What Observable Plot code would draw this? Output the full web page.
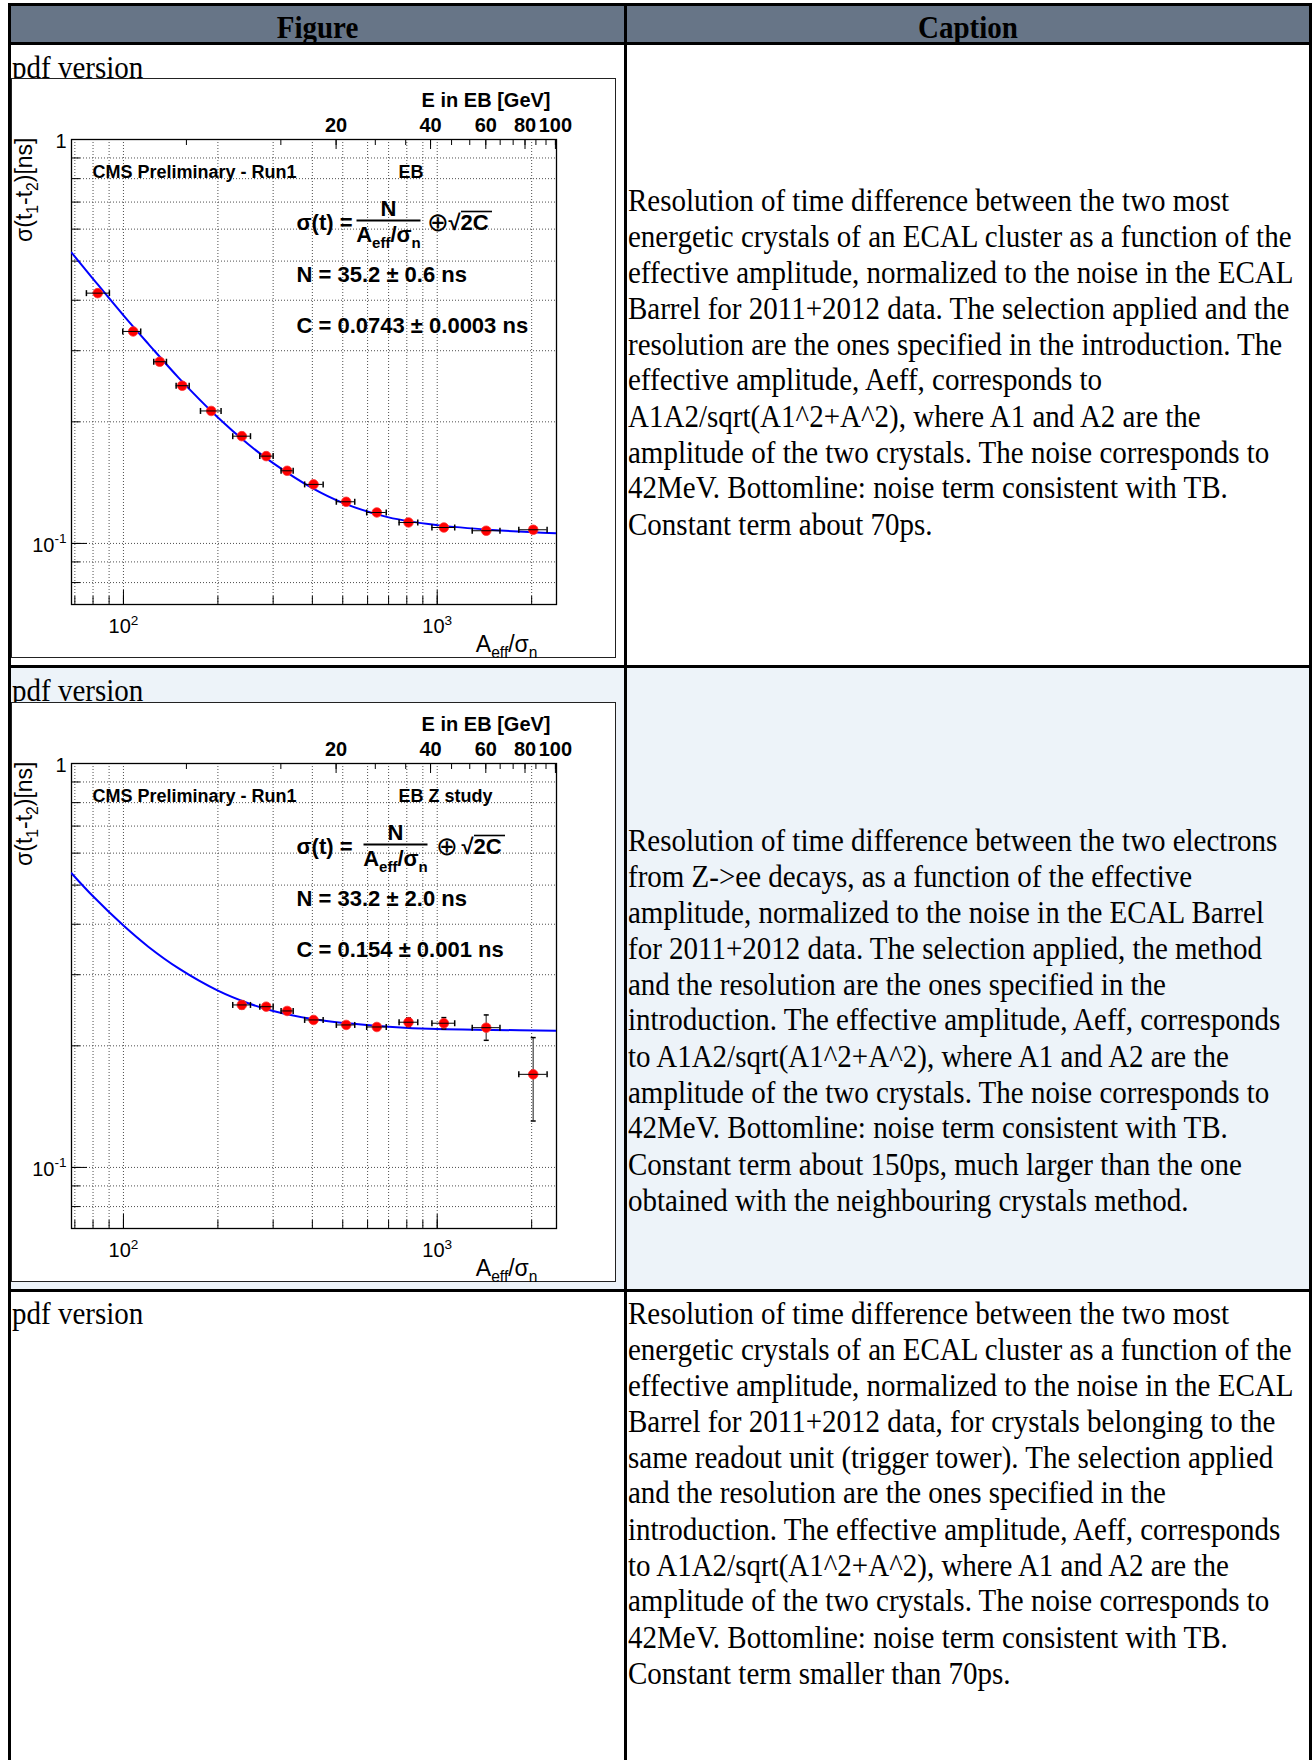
<!DOCTYPE html>
<html>
<head>
<meta charset="utf-8">
<script src="https://cdn.jsdelivr.net/npm/d3@7"></script>
<script src="https://cdn.jsdelivr.net/npm/@observablehq/plot@0.6"></script>
<style>
html, body { margin: 0; padding: 0; background: #fff; }
#page { position: relative; width: 1314px; height: 1760px; overflow: hidden;
  font-family: "Liberation Serif", "Times New Roman", Times, serif; color: #000; }
.ln { position: absolute; background: #000; }
.bg { position: absolute; }
.txt { position: absolute; font-size: 29px; line-height: 33.3px; white-space: nowrap;
  transform-origin: 0 0; transform: scaleY(1.08); }
.hd { font-weight: bold; transform-origin: 50% 0; transform: translateX(-50%) scaleY(1.08); }
.pdf { text-decoration: underline; }
.img { position: absolute; background: #fff; border: 1px solid #222; box-sizing: border-box; }
.img svg { display: block; }
</style>
</head>
<body>
<div id="page"></div>
<script>
// ---------------- data ----------------
const GEV_PER_UNIT = 0.042;               // 42 MeV noise: E[GeV] = (A_eff/sigma_n) * 0.042

// Panel 1: EB, two most energetic crystals
const ebAeff    = [82.8, 107.4, 130.5, 153.9, 190.4, 238.4, 285.1, 332.5, 403.5, 512.8, 642, 810, 1050, 1433, 2023];
const ebAeffLo  = [76.2, 99.5, 124.9, 147.2, 176, 223, 272, 318, 378, 477, 596, 756, 962, 1293, 1820];
const ebAeffHi  = [90.2, 113.5, 137.1, 162, 204.7, 254, 300, 347.5, 433, 546, 688, 867, 1137, 1585, 2240];
const ebSigma   = [0.4165, 0.3348, 0.2817, 0.2457, 0.2128, 0.1843, 0.1645, 0.1513, 0.1400, 0.1268, 0.1193, 0.1127, 0.1095, 0.1075, 0.1081];
const ebSigmaLo = [0.4120, 0.3315, 0.2792, 0.2437, 0.2112, 0.1830, 0.1634, 0.1503, 0.1391, 0.1260, 0.1186, 0.1121, 0.1089, 0.1069, 0.1074];
const ebSigmaHi = [0.4210, 0.3381, 0.2842, 0.2477, 0.2144, 0.1856, 0.1656, 0.1523, 0.1409, 0.1276, 0.1200, 0.1133, 0.1101, 0.1081, 0.1088];

// Panel 2: EB, Z study (electrons from Z->ee)
const zAeff    = [238.4, 285.1, 332.5, 403.5, 512.8, 642, 810, 1050, 1433, 2023];
const zAeffLo  = [223, 272, 318, 378, 477, 596, 756, 962, 1293, 1820];
const zAeffHi  = [254, 300, 347.5, 433, 546, 688, 867, 1137, 1585, 2240];
const zSigma   = [0.2525, 0.2500, 0.2440, 0.2318, 0.2253, 0.2227, 0.2288, 0.2275, 0.2218, 0.170];
const zSigmaLo = [0.2470, 0.2460, 0.2400, 0.2280, 0.2215, 0.2190, 0.2231, 0.2201, 0.2064, 0.1303];
const zSigmaHi = [0.2581, 0.2540, 0.2480, 0.2356, 0.2291, 0.2264, 0.2346, 0.2349, 0.2385, 0.2096];

// fitted curves
const fitAeff    = [68.3, 80, 100, 120, 150, 200, 250, 300, 400, 500, 700, 1000, 1500, 2400];
const ebFitSigma = [0.525, 0.452, 0.367, 0.312, 0.257, 0.205, 0.176, 0.158, 0.137, 0.126, 0.116, 0.111, 0.108, 0.106];
const zFitSigma  = [0.535, 0.469, 0.397, 0.352, 0.311, 0.274, 0.255, 0.244, 0.233, 0.228, 0.223, 0.220, 0.219, 0.218];

// axes
const xDomain = [68.3, 2400];
const yDomain = [0.0706, 1];
const xGridTicks  = [70, 80, 90, 100, 200, 300, 400, 500, 600, 700, 800, 900, 1000, 2000];
const xMajorTicks = [100, 1000];
const xTickLabels = ["10^{2}", "10^{3}"];
const yGridTicks  = [0.08, 0.09, 0.1, 0.2, 0.3, 0.4, 0.5, 0.6, 0.7, 0.8, 0.9];
const yMajorTicks = [0.1, 1];
const yTickLabels = ["10^{-1}", "1"];
const eMinorTicks = [6.667, 13.333, 20, 26.667, 33.333, 40, 46.667, 53.333, 60, 66.667, 73.333, 80, 86.667, 93.333, 100];
const eMajorTicks = [20, 40, 60, 80, 100];

// captions
const caption1 = [
  "Resolution of time difference between the two most",
  "energetic crystals of an ECAL cluster as a function of the",
  "effective amplitude, normalized to the noise in the ECAL",
  "Barrel for 2011+2012 data. The selection applied and the",
  "resolution are the ones specified in the introduction. The",
  "effective amplitude, Aeff, corresponds to",
  "A1A2/sqrt(A1^2+A^2), where A1 and A2 are the",
  "amplitude of the two crystals. The noise corresponds to",
  "42MeV. Bottomline: noise term consistent with TB.",
  "Constant term about 70ps."
];
const caption2 = [
  "Resolution of time difference between the two electrons",
  "from Z->ee decays, as a function of the effective",
  "amplitude, normalized to the noise in the ECAL Barrel",
  "for 2011+2012 data. The selection applied, the method",
  "and the resolution are the ones specified in the",
  "introduction. The effective amplitude, Aeff, corresponds",
  "to A1A2/sqrt(A1^2+A^2), where A1 and A2 are the",
  "amplitude of the two crystals. The noise corresponds to",
  "42MeV. Bottomline: noise term consistent with TB.",
  "Constant term about 150ps, much larger than the one",
  "obtained with the neighbouring crystals method."
];
const caption3 = [
  "Resolution of time difference between the two most",
  "energetic crystals of an ECAL cluster as a function of the",
  "effective amplitude, normalized to the noise in the ECAL",
  "Barrel for 2011+2012 data, for crystals belonging to the",
  "same readout unit (trigger tower). The selection applied",
  "and the resolution are the ones specified in the",
  "introduction. The effective amplitude, Aeff, corresponds",
  "to A1A2/sqrt(A1^2+A^2), where A1 and A2 are the",
  "amplitude of the two crystals. The noise corresponds to",
  "42MeV. Bottomline: noise term consistent with TB.",
  "Constant term smaller than 70ps."
];

// ---------------- helpers ----------------
const hbar = len => ({draw(ctx) { ctx.moveTo(-len / 2, 0); ctx.lineTo(len / 2, 0); }});
const vbar = len => ({draw(ctx) { ctx.moveTo(0, -len / 2); ctx.lineTo(0, len / 2); }});

function richify(svg) {
  const NS = "http://www.w3.org/2000/svg";
  svg.querySelectorAll("text").forEach(t => {
    const s = t.textContent;
    if (!/[_^]\{/.test(s)) return;
    let fs = 16, el = t;
    while (el && el.getAttribute) {
      const a = el.getAttribute("font-size");
      if (a) { fs = parseFloat(a); break; }
      el = el.parentNode;
    }
    t.textContent = "";
    let shift = 0, m;
    const re = /_\{([^}]*)\}|\^\{([^}]*)\}|([^_^]+)/g;
    while ((m = re.exec(s))) {
      const ts = document.createElementNS(NS, "tspan");
      let target = 0, txt = m[3];
      if (m[1] !== undefined) { target = 0.28 * fs; txt = m[1]; ts.setAttribute("font-size", (0.68 * fs).toFixed(1)); }
      else if (m[2] !== undefined) { target = -0.42 * fs; txt = m[2]; ts.setAttribute("font-size", (0.68 * fs).toFixed(1)); }
      ts.setAttribute("dy", (target - shift).toFixed(2));
      shift = target;
      ts.textContent = txt;
      t.appendChild(ts);
    }
  });
}

function panel(cfg) {
  const W = 603, H = 578, mL = 59, mR = 59, mT = 60, mB = 53;
  const FW = W - mL - mR, FH = H - mT - mB;
  const pts = cfg.aeff.map((a, i) => ({a, lo: cfg.aeffLo[i], hi: cfg.aeffHi[i],
    s: cfg.sigma[i], slo: cfg.sigmaLo[i], shi: cfg.sigmaHi[i]}));
  const fit = fitAeff.map((a, i) => ({a, s: cfg.fit[i]}));
  const grid = {stroke: "#3a3a3a", strokeWidth: 0.9, strokeDasharray: "1,2"};
  const B = {fontWeight: "bold", fill: "#000", lineAnchor: "middle"};
  const M = {lineAnchor: "middle", fill: "#000"};
  const svg = Plot.plot({
    width: W, height: H, marginLeft: mL, marginRight: mR, marginTop: mT, marginBottom: mB,
    x: {type: "log", domain: xDomain, axis: null},
    y: {type: "log", domain: yDomain, axis: null},
    style: {fontFamily: "'Liberation Sans', Arial, sans-serif", background: "#fff", color: "#000", overflow: "visible"},
    marks: [
      Plot.ruleX(xGridTicks, grid),
      Plot.ruleY(yGridTicks, grid),
      Plot.frame({stroke: "#000", strokeWidth: 1.3}),
      // bottom axis ticks (inward)
      Plot.tickX(xGridTicks, {insetTop: FH - 8, stroke: "#000"}),
      Plot.tickX(xMajorTicks, {insetTop: FH - 14, stroke: "#000"}),
      // left axis ticks
      Plot.tickY(yGridTicks, {insetRight: FW - 9, stroke: "#000"}),
      Plot.tickY(yMajorTicks, {insetRight: FW - 16, stroke: "#000"}),
      // top energy axis
      Plot.tickX(eMinorTicks, {x: e => e / GEV_PER_UNIT, insetBottom: FH - 6, stroke: "#000"}),
      Plot.tickX(eMajorTicks, {x: e => e / GEV_PER_UNIT, insetBottom: FH - 10, stroke: "#000"}),
      Plot.text(eMajorTicks, {x: e => e / GEV_PER_UNIT, text: e => String(e), frameAnchor: "top", dy: -14, fontSize: 20, ...B}),
      Plot.text(["E in EB [GeV]"], {frameAnchor: "top-right", textAnchor: "end", dx: -6, dy: -39, fontSize: 20, ...B}),
      // tick labels
      Plot.text(xMajorTicks, {x: d => d, text: (d, i) => xTickLabels[i], frameAnchor: "bottom", dy: 22, fontSize: 20, ...M}),
      Plot.text(yMajorTicks, {y: d => d, text: (d, i) => yTickLabels[i], frameAnchor: "left", textAnchor: "end", dx: -5, dy: 2, fontSize: 20, ...M}),
      // axis titles
      Plot.text(["A_{eff}/σ_{n}"], {frameAnchor: "bottom-right", textAnchor: "end", dx: -19, dy: 40, fontSize: 23, ...M}),
      Plot.text(["σ(t_{1}-t_{2})[ns]"], {frameAnchor: "top-left", rotate: -90, textAnchor: "end", dx: -47, dy: -2, fontSize: 23, ...M}),
      // annotations
      Plot.text(["CMS Preliminary - Run1"], {frameAnchor: "top-left", textAnchor: "start", dx: 21, dy: 33, fontSize: 18, ...B}),
      Plot.text([cfg.tag], {frameAnchor: "top-left", textAnchor: "start", dx: 327, dy: 33, fontSize: 18, ...B}),
      Plot.text(["σ(t) ="], {frameAnchor: "top-left", textAnchor: "start", dx: 225, dy: 83, fontSize: 22, ...B}),
      Plot.text(["N"], {frameAnchor: "top-left", textAnchor: "middle", dx: cfg.fracDx, dy: 69, fontSize: 22, ...B}),
      Plot.dot([0], {frameAnchor: "top-left", dx: cfg.fracDx, dy: 81, symbol: hbar(64), stroke: "#000", strokeWidth: 2, fill: "none"}),
      Plot.text(["A_{eff}/σ_{n}"], {frameAnchor: "top-left", textAnchor: "middle", dx: cfg.fracDx, dy: 95, fontSize: 22, ...B}),
      Plot.text(["⊕"], {frameAnchor: "top-left", textAnchor: "middle", dx: cfg.oplusDx, dy: 83, fontSize: 26, ...M}),
      Plot.text(["√2C"], {frameAnchor: "top-left", textAnchor: "start", dx: cfg.sqrtDx, dy: 83, fontSize: 22, ...B}),
      Plot.dot([0], {frameAnchor: "top-left", dx: cfg.sqrtDx + 28, dy: 72, symbol: hbar(31), stroke: "#000", strokeWidth: 1.6, fill: "none"}),
      Plot.text([cfg.nText], {frameAnchor: "top-left", textAnchor: "start", dx: 225, dy: 135, fontSize: 22, ...B}),
      Plot.text([cfg.cText], {frameAnchor: "top-left", textAnchor: "start", dx: 225, dy: 186, fontSize: 22, ...B}),
      // fit
      Plot.line(fit, {x: "a", y: "s", stroke: "#0000ff", strokeWidth: 2, curve: "catmull-rom", clip: true}),
      // data
      Plot.ruleX(pts, {x: "a", y1: "slo", y2: "shi", stroke: "#666", strokeWidth: 1.5}),
      Plot.dot(pts, {x: "a", y: "slo", symbol: hbar(5), stroke: "#000", fill: "none"}),
      Plot.dot(pts, {x: "a", y: "shi", symbol: hbar(5), stroke: "#000", fill: "none"}),
      Plot.dot(pts, {x: "a", y: "s", r: 4.8, fill: "#ff0000", stroke: "#ff3333", strokeWidth: 0.8}),
      Plot.ruleY(pts, {y: "s", x1: "lo", x2: "hi", stroke: "#000", strokeWidth: 1}),
      Plot.dot(pts, {x: "lo", y: "s", symbol: vbar(6), stroke: "#000", fill: "none"}),
      Plot.dot(pts, {x: "hi", y: "s", symbol: vbar(6), stroke: "#000", fill: "none"})
    ]
  });
  richify(svg);
  return svg;
}

// ---------------- page layout ----------------
const page = document.getElementById("page");
const SY = 1.08;
function box(cls, l, t, w, h, style) {
  const d = document.createElement("div");
  d.className = cls;
  Object.assign(d.style, {left: l + "px", top: t + "px", width: w + "px", height: h + "px"}, style || {});
  page.appendChild(d);
  return d;
}
function txt(l, centerY, content, extra) {
  const d = document.createElement("div");
  d.className = "txt " + (extra || "");
  d.style.left = l + "px";
  d.style.top = (centerY - 18 * SY) + "px";
  d.textContent = content;
  page.appendChild(d);
  return d;
}
function caption(l, firstCenterY, lines) {
  const d = document.createElement("div");
  d.className = "txt";
  d.style.left = l + "px";
  d.style.top = (firstCenterY - 18 * SY) + "px";
  lines.forEach(s => { const r = document.createElement("div"); r.textContent = s; d.appendChild(r); });
  page.appendChild(d);
}

const L = 8, R = 1312, TOP = 3, DIV = 624, HB = 42, R1B = 665, R2B = 1289, BW = 3, BOT = 1760;
// backgrounds
box("bg", L, TOP, R - L, HB - TOP + BW, {background: "#677587"});
box("bg", L, R1B, R - L, R2B - R1B, {background: "#edf3f9"});
// header texts
txt((L + BW + DIV) / 2, 29, "Figure", "hd");
txt((DIV + BW + R - BW) / 2, 29, "Caption", "hd");
// left cells
txt(12, 69, "pdf version", "pdf");
txt(12, 692, "pdf version", "pdf");
txt(12, 1315, "pdf version", "");
const img1 = box("img", 11, 78, 605, 580);
img1.appendChild(panel({aeff: ebAeff, aeffLo: ebAeffLo, aeffHi: ebAeffHi, sigma: ebSigma, sigmaLo: ebSigmaLo, sigmaHi: ebSigmaHi,
  fit: ebFitSigma, tag: "EB", nText: "N = 35.2 ± 0.6 ns", cText: "C = 0.0743 ± 0.0003 ns", fracDx: 317, oplusDx: 366, sqrtDx: 377}));
const img2 = box("img", 11, 702, 605, 580);
img2.appendChild(panel({aeff: zAeff, aeffLo: zAeffLo, aeffHi: zAeffHi, sigma: zSigma, sigmaLo: zSigmaLo, sigmaHi: zSigmaHi,
  fit: zFitSigma, tag: "EB Z study", nText: "N = 33.2 ± 2.0 ns", cText: "C = 0.154 ± 0.001 ns", fracDx: 324, oplusDx: 375, sqrtDx: 390}));
// captions
caption(628, 202, caption1);
caption(628, 842, caption2);
caption(628, 1315, caption3);
// table lines
box("ln", L, TOP, R - L, BW);
box("ln", L, HB, R - L, BW);
box("ln", L, R1B, R - L, BW);
box("ln", L, R2B, R - L, BW);
box("ln", L, TOP, BW, BOT - TOP);
box("ln", DIV, TOP, BW, BOT - TOP);
box("ln", R - BW, TOP, BW, BOT - TOP);
</script>
</body>
</html>
